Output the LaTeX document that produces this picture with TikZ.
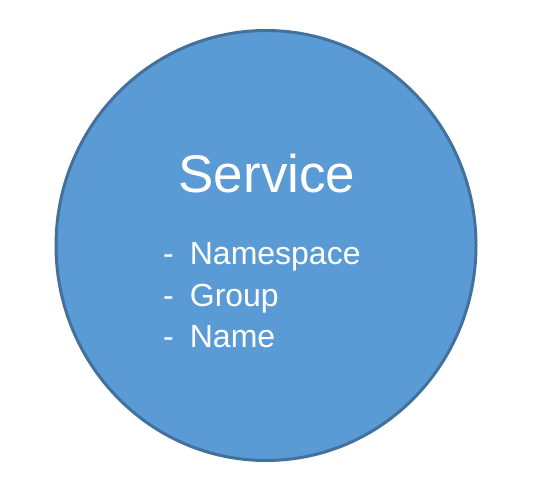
\documentclass[tikz,border=0pt]{standalone}
\usepackage{fontspec}
\setmainfont{Liberation Sans}
\usepackage{xcolor}
\usetikzlibrary{shapes.geometric,positioning}

\definecolor{svcfill}{HTML}{5B9BD5}
\definecolor{svcline}{HTML}{41719C}

\begin{document}
\begin{tikzpicture}[
    x=1pt, y=1pt,
    svc/.style={ellipse, draw=svcline, fill=svcfill, line width=3pt, minimum width=420pt, minimum height=430pt, inner sep=0pt},
    title/.style={text=white, inner sep=0pt, font=\fontsize{53}{60}\selectfont},
    item/.style={text=white, inner sep=0pt, font=\fontsize{32}{38}\selectfont}
]
    \useasboundingbox (0,0) rectangle (535,492);

    % Kreis
    \node[svc] (service) at (266,246.5) {};

    % Titel
    \node[title, anchor=base] (name) at (267,299) {Service};

    % Felder
    \foreach \t [count=\i] in {Namespace,Group,Name}
        \node[item, anchor=base west] (item\i) at (163,{227-41.5*(\i-1)}) {-\hspace{0.5em}\t};
\end{tikzpicture}
\end{document}
